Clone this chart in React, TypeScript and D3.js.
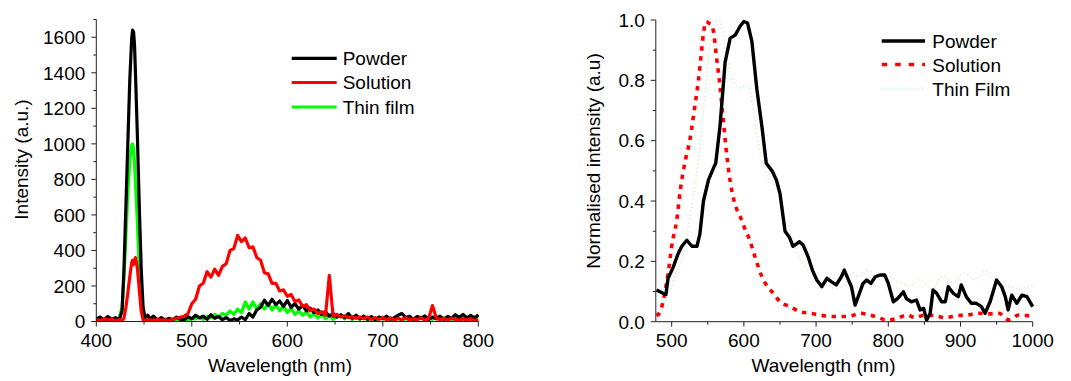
import React from "react";
import * as d3 from "d3";

// ---------- LEFT PANEL DATA (Intensity vs wavelength) ----------
const leftPeakWl = [400, 404, 408, 412, 416, 420, 424, 427, 429, 431, 433, 435, 437, 438, 439, 440, 441, 443, 445, 447, 449, 451, 454];
const leftTailWl = d3.range(456, 801, 4); // 456..800 step 4 (87 points)
const leftWl = [...leftPeakWl, ...leftTailWl];

const powderAbs = [
  15, 25, 10, 28, 12, 22, 8, 60, 300, 650, 1000, 1350, 1590, 1640, 1630, 1560, 1400, 1050, 650, 300, 80, 20, 35,
  15, 30, 8, 22, 5, 18, 10, 25, 12, 8,
  28, 15, 35, 20, 30, 12, 38, 18, 28, 10,
  22, 5, 15, 8, 25, 10, 45, 25, 65, 80,
  120, 90, 125, 95, 115, 85, 118, 80, 100, 70,
  90, 60, 75, 50, 65, 40, 55, 30, 45, 25,
  38, 22, 45, 18, 35, 15, 30, 12, 28, 10,
  25, 15, 30, 12, 22, 35, 45, 22, 30, 12,
  28, 18, 32, 10, 25, 15, 30, 12, 28, 18,
  38, 22, 40, 20, 35, 18, 38,
];
const solutionAbs = [
  10, 5, 15, 8, 12, 5, 10, 5, 20, 80, 160, 250, 330, 345, 320, 340, 360, 300, 180, 60, 10, 5, 8,
  10, 5, 12, 6, 10, 4, 12, 18, 24, 30,
  45, 100, 125, 200, 215, 280, 250, 295, 260, 310,
  325, 400, 410, 485, 450, 470, 415, 420, 360, 345,
  275, 268, 215, 215, 172, 178, 142, 152, 112, 122,
  85, 95, 60, 70, 45, 55, 35, 260, 28, 40,
  25, 32, 22, 28, 18, 25, 15, 25, 12, 22,
  12, 22, 10, 20, 8, 18, 10, 22, 8, 16,
  10, 20, 8, 16, 90, 20, 10, 18, 8, 18,
  12, 6, 15, 8, 14, 6, 10,
];
const thinFilmAbs = [
  5, 12, 8, 15, 6, 10, 20, 80, 250, 480, 720, 900, 990, 1000, 970, 900, 780, 560, 300, 100, 20, 10, 5,
  8, 12, 5, 10, 15, 6, 12, 8, 14, 10,
  5, 18, 15, 25, 12, 30, 20, 40, 25, 45,
  35, 60, 40, 70, 50, 110, 70, 110, 70, 100,
  70, 100, 65, 95, 60, 85, 50, 75, 40, 60,
  35, 55, 25, 45, 20, 40, 15, 35, 12, 30,
  35, 15, 30, 10, 25, 12, 30, 8, 22, 6,
  15, 25, 8, 20, 10, 18, 6, 15, 20, 8,
  18, 25, 10, 20, 12, 30, 8, 20, 25, 10,
  20, 30, 12, 25, 15, 28, 18,
];

const leftXTicks = [400, 500, 600, 700, 800];
const leftXMinor = [450, 550, 650, 750];
const leftYTicks = [0, 200, 400, 600, 800, 1000, 1200, 1400, 1600];
const leftYMinor = [100, 300, 500, 700, 900, 1100, 1300, 1500, 1700];
const leftLegend = ["Powder", "Solution", "Thin film"];

// ---------- RIGHT PANEL DATA (Normalised intensity) ----------
const rPowderWl = [
  479, 488, 492, 495, 502, 509, 514, 521, 528, 535,
  539, 544, 551, 558, 561, 567, 574, 581, 588, 595,
  600, 605, 611, 618, 625, 631, 639, 645, 650, 657,
  663, 668, 677, 682, 689, 695, 701, 708, 715, 721,
  728, 735, 739, 745, 749, 754, 760, 765, 770, 776,
  782, 789, 795, 800, 807, 813, 821, 825, 832, 839,
  844, 849, 853, 858, 862, 867, 874, 879, 883, 890,
  897, 901, 908, 915, 922, 929, 934, 941, 950, 957,
  962, 966, 971, 978, 985, 992, 1000,
];
const rPowderVal = [
  0.105, 0.094, 0.09, 0.144, 0.18, 0.226, 0.25, 0.27, 0.25, 0.25,
  0.29, 0.4, 0.47, 0.51, 0.525, 0.65, 0.86, 0.94, 0.95, 0.98,
  0.995, 0.99, 0.93, 0.77, 0.646, 0.525, 0.5, 0.47, 0.425, 0.3,
  0.28, 0.25, 0.265, 0.254, 0.215, 0.17, 0.138, 0.116, 0.144, 0.133,
  0.122, 0.149, 0.171, 0.138, 0.116, 0.055, 0.094, 0.127, 0.138, 0.127,
  0.149, 0.155, 0.155, 0.127, 0.066, 0.077, 0.099, 0.077, 0.066, 0.072,
  0.039, 0.044, 0.005, 0.028, 0.105, 0.094, 0.066, 0.066, 0.116, 0.094,
  0.083, 0.122, 0.083, 0.061, 0.061, 0.05, 0.028, 0.066, 0.138, 0.116,
  0.083, 0.039, 0.088, 0.061, 0.088, 0.083, 0.05,
];
const rSolutionWl = [
  479, 484, 490, 495, 500, 507, 512, 518, 525, 532,
  537, 541, 544, 548, 551, 555, 558, 562, 567, 571,
  576, 583, 589, 595, 601, 608, 616, 625, 633, 641,
  650, 664, 678, 692, 705, 724, 745, 761, 775, 782,
  798, 812, 826, 837, 851, 865, 879, 893, 909, 925,
  939, 953, 967, 981, 995, 1000,
];
const rSolutionVal = [
  0.02, 0.033, 0.09, 0.16, 0.25, 0.337, 0.437, 0.525, 0.6, 0.713,
  0.8, 0.89, 0.956, 0.995, 0.99, 0.985, 0.96, 0.878, 0.779, 0.68,
  0.558, 0.437, 0.38, 0.348, 0.31, 0.271, 0.21, 0.149, 0.115, 0.094,
  0.066, 0.05, 0.033, 0.028, 0.022, 0.017, 0.017, 0.028, 0.022, 0.017,
  0.006, 0.011, 0.022, 0.014, 0.022, 0.02, 0.013, 0.02, 0.022, 0.028,
  0.026, 0.028, 0.006, 0.022, 0.02, 0.025,
];
const rThinWl = [
  478, 485, 493, 500, 508, 516, 522, 530, 538, 545,
  550, 555, 560, 565, 570, 575, 580, 587, 594, 600,
  606, 612, 618, 625, 632, 640, 648, 656, 664, 672,
  680, 690, 700, 712, 725, 738, 750, 760, 772, 785,
  800, 815, 830, 845, 860, 875, 890, 905, 920, 935,
  950, 965, 980, 1000,
];
const rThinVal = [
  0.03, 0.05, 0.08, 0.12, 0.17, 0.22, 0.3, 0.42, 0.56, 0.72,
  0.85, 0.95, 0.99, 1.0, 0.97, 0.9, 0.84, 0.79, 0.775, 0.78,
  0.79, 0.72, 0.62, 0.54, 0.48, 0.46, 0.42, 0.34, 0.3, 0.24,
  0.2, 0.17, 0.14, 0.13, 0.11, 0.12, 0.16, 0.15, 0.17, 0.14,
  0.15, 0.13, 0.12, 0.14, 0.11, 0.15, 0.13, 0.16, 0.14, 0.17,
  0.13, 0.12, 0.11, 0.12,
];

const rightXTicks = [500, 600, 700, 800, 900, 1000];
const rightXMinor = [550, 650, 750, 850, 950];
const rightYTicks = [0, 0.2, 0.4, 0.6, 0.8, 1.0];
const rightYMinor = [0.1, 0.3, 0.5, 0.7, 0.9];
const rightLegend = ["Powder", "Solution", "Thin Film"];

const FONT = "'Liberation Sans', Arial, Helvetica, sans-serif";
const FS = 19;

type P = [number, number];
const zip = (a: number[], b: number[]): P[] => a.map((v, i) => [v, b[i]] as P);

function Axes(props: {
  x: d3.ScaleLinear<number, number>;
  y: d3.ScaleLinear<number, number>;
  xTicks: number[];
  xMinor: number[];
  yTicks: number[];
  yMinor: number[];
  yFmt: (v: number) => string;
  xLabel: string;
  yLabel: string;
  xLabelX: number;
  yLabelX: number;
  yLabelY: number;
}) {
  const { x, y, xTicks, xMinor, yTicks, yMinor, yFmt } = props;
  const [x0, x1] = x.range();
  const [yb, yt] = y.range();
  const col = "#222";
  return (
    <g fontFamily={FONT} fontSize={FS} fill="#000">
      <line x1={x0} x2={x1} y1={yb} y2={yb} stroke={col} strokeWidth={1} />
      <line x1={x0} x2={x0} y1={yb} y2={yt} stroke={col} strokeWidth={1} />
      {xTicks.map((t) => (
        <g key={"xt" + t}>
          <line x1={x(t)} x2={x(t)} y1={yb} y2={yb + 5} stroke={col} />
          <text x={x(t)} y={yb + 25} textAnchor="middle">{t}</text>
        </g>
      ))}
      {xMinor.map((t) => (
        <line key={"xm" + t} x1={x(t)} x2={x(t)} y1={yb} y2={yb + 3} stroke={col} />
      ))}
      {yTicks.map((t) => (
        <g key={"yt" + t}>
          <line x1={x0 - 5} x2={x0} y1={y(t)} y2={y(t)} stroke={col} />
          <text x={x0 - 11} y={y(t) + 6.8} textAnchor="end">{yFmt(t)}</text>
        </g>
      ))}
      {yMinor.map((t) => (
        <line key={"ym" + t} x1={x0 - 3} x2={x0} y1={y(t)} y2={y(t)} stroke={col} />
      ))}
      <text x={props.xLabelX} y={372} textAnchor="middle">{props.xLabel}</text>
      <text
        transform={`translate(${props.yLabelX},${props.yLabelY}) rotate(-90)`}
        textAnchor="middle"
      >
        {props.yLabel}
      </text>
    </g>
  );
}

export default function App() {
  // Left panel scales
  const lx = d3.scaleLinear().domain([400, 800]).range([96.3, 478.3]);
  const ly = d3.scaleLinear().domain([0, 1700]).range([321.5, 19.5]);
  const lLine = d3
    .line<P>()
    .x((d) => lx(d[0]))
    .y((d) => ly(d[1]));

  // Right panel scales
  const rx = d3.scaleLinear().domain([478, 1000]).range([655.8, 1032.7]);
  const ry = d3.scaleLinear().domain([0, 1]).range([321.7, 20]);
  const rLine = d3
    .line<P>()
    .x((d) => rx(d[0]))
    .y((d) => ry(d[1]));
  const rSmooth = d3
    .line<P>()
    .x((d) => rx(d[0]))
    .y((d) => ry(d[1]))
    .curve(d3.curveMonotoneX);

  const leftColors = ["#000000", "#ff0000", "#00ff00"];
  const leftSeries = [powderAbs, solutionAbs, thinFilmAbs];
  const drawOrder = [2, 0, 1];

  const lLegY = [58.3, 82.5, 107];
  const rLegY = [41, 64.5, 88.5];
  const thinCol = "#d6f6d6";

  return (
    <svg
      width={1071}
      height={381}
      style={{ position: "absolute", left: 0, top: 0, background: "#fff" }}
    >
      <rect width={1071} height={381} fill="#fff" />
      {/* LEFT PANEL */}
      {drawOrder.map((i) => (
        <path
          key={"l" + i}
          d={lLine(zip(leftWl, leftSeries[i])) || ""}
          fill="none"
          stroke={leftColors[i]}
          strokeWidth={3.2}
          strokeLinejoin="round"
        />
      ))}
      <Axes
        x={lx}
        y={ly}
        xTicks={leftXTicks}
        xMinor={leftXMinor}
        yTicks={leftYTicks}
        yMinor={leftYMinor}
        yFmt={(v) => String(v)}
        xLabel="Wavelength (nm)"
        yLabel="Intensity (a.u.)"
        xLabelX={280}
        yLabelX={27.5}
        yLabelY={159.5}
      />
      <g fontFamily={FONT} fontSize={FS}>
        {leftLegend.map((name, i) => (
          <g key={name}>
            <line x1={291.7} x2={336.7} y1={lLegY[i]} y2={lLegY[i]} stroke={leftColors[i]} strokeWidth={i === 0 ? 3.2 : 2.8} />
            <text x={342.7} y={lLegY[i] + 6.8}>{name}</text>
          </g>
        ))}
      </g>

      {/* RIGHT PANEL */}
      <path
        d={rSmooth(zip(rThinWl, rThinVal)) || ""}
        fill="none"
        stroke={thinCol}
        strokeWidth={1.8}
        strokeDasharray="1.5,2.5"
      />
      <path
        d={rSmooth(zip(rSolutionWl, rSolutionVal)) || ""}
        fill="none"
        stroke="#ff0000"
        strokeWidth={3.6}
        strokeDasharray="4.5,5.5"
      />
      <path
        d={rLine(zip(rPowderWl, rPowderVal)) || ""}
        fill="none"
        stroke="#000"
        strokeWidth={3.4}
        strokeLinejoin="round"
      />
      <Axes
        x={rx}
        y={ry}
        xTicks={rightXTicks}
        xMinor={rightXMinor}
        yTicks={rightYTicks}
        yMinor={rightYMinor}
        yFmt={(v) => v.toFixed(1)}
        xLabel="Wavelength (nm)"
        yLabel="Normalised intensity (a.u)"
        xLabelX={823.5}
        yLabelX={600}
        yLabelY={161}
      />
      <g fontFamily={FONT} fontSize={FS}>
        <line x1={881.7} x2={925} y1={rLegY[0]} y2={rLegY[0]} stroke="#000" strokeWidth={3.4} />
        <line x1={881.7} x2={925} y1={rLegY[1]} y2={rLegY[1]} stroke="#ff0000" strokeWidth={3.6} strokeDasharray="5.5,8" />
        <line x1={881.7} x2={925} y1={rLegY[2]} y2={rLegY[2]} stroke={thinCol} strokeWidth={1.8} strokeDasharray="1.5,2.5" />
        {rightLegend.map((name, i) => (
          <text key={name} x={932.3} y={rLegY[i] + 7}>{name}</text>
        ))}
      </g>
    </svg>
  );
}
